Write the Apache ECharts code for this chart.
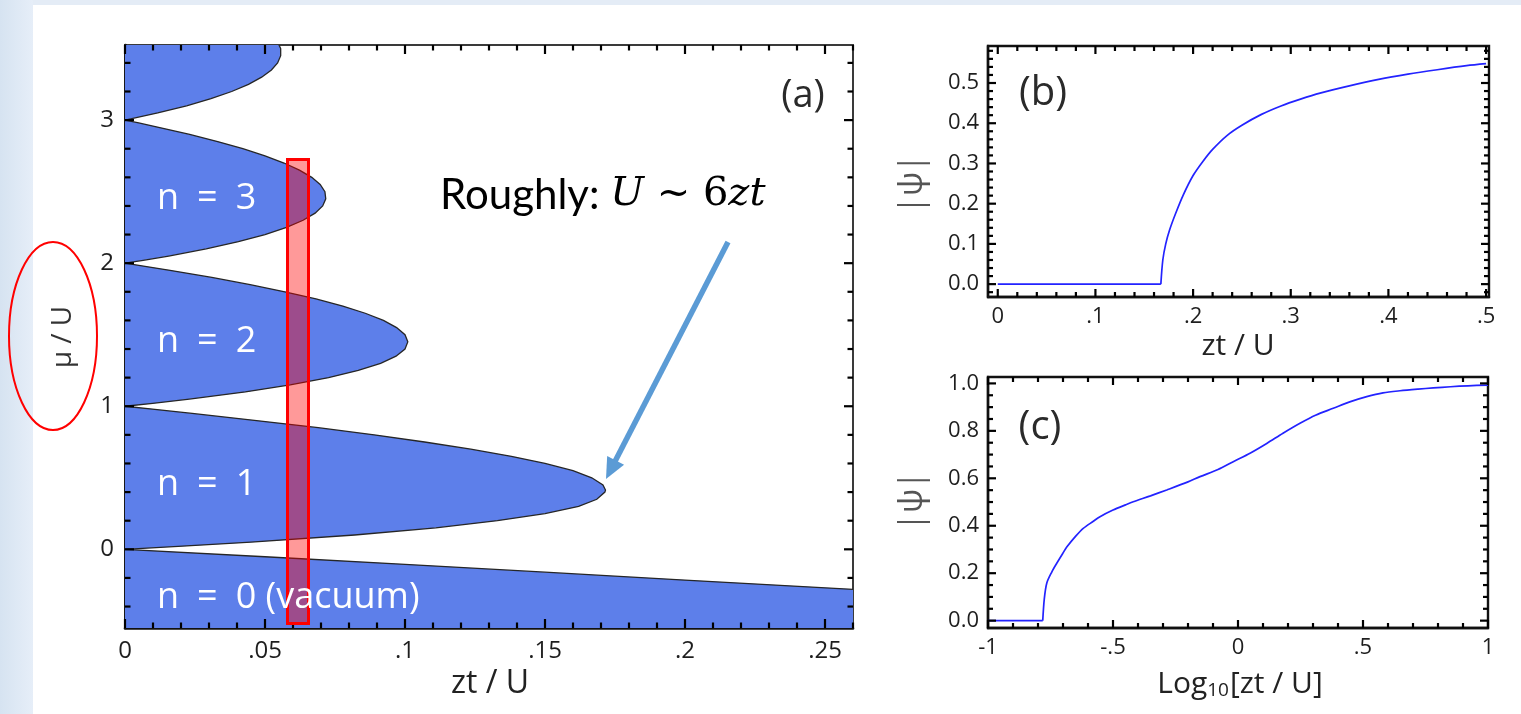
<!DOCTYPE html>
<html>
<head>
<meta charset="utf-8">
<script src="https://cdn.jsdelivr.net/npm/echarts@6/dist/echarts.min.js"></script>
<style>
  html, body { margin: 0; padding: 0; width: 1521px; height: 714px; overflow: hidden; background: #e4ecf6; }
  #side { position: absolute; left: 0; top: 0; width: 33px; height: 714px; background: linear-gradient(to right, #d6e3f1, #e6eef8); }
  #sheet { position: absolute; left: 33px; top: 5px; right: 0; bottom: 0; background: #ffffff; }
  #chart { position: absolute; left: 0; top: 0; width: 1521px; height: 714px; }
</style>
</head>
<body>
<div id="side"></div>
<div id="sheet"></div>
<div id="chart"></div>
<script>
// ---- (a) Mott-lobe phase boundaries, points as [zt/U, mu/U] ----
const lobeN0 = [[0, 0], [0.05, -0.052], [0.1, -0.105], [0.15, -0.16], [0.2, -0.215], [0.26, -0.28]];
const lobeN1 = [[0, 0], [0.019, 0.02], [0.045, 0.05], [0.082, 0.1], [0.111, 0.15], [0.133, 0.2], [0.150, 0.25],
  [0.162, 0.3], [0.1685, 0.35], [0.1714, 0.4], [0.1716, 0.414], [0.1707, 0.45], [0.1667, 0.5], [0.160, 0.55],
  [0.150, 0.6], [0.138, 0.65], [0.1235, 0.7], [0.107, 0.75], [0.089, 0.8], [0.069, 0.85], [0.047, 0.9],
  [0.024, 0.95], [0.0098, 0.98], [0, 1]];
const lobeN2 = [[0, 1], [0.0099, 1.02], [0.023, 1.05], [0.043, 1.1], [0.059, 1.15], [0.0727, 1.2], [0.0833, 1.25],
  [0.0913, 1.3], [0.0968, 1.35], [0.1, 1.4], [0.101, 1.45], [0.1, 1.5], [0.097, 1.55], [0.0923, 1.6],
  [0.0858, 1.65], [0.0778, 1.7], [0.0682, 1.75], [0.0571, 1.8], [0.0447, 1.85], [0.031, 1.9], [0.0161, 1.95],
  [0.0066, 1.98], [0, 2]];
const lobeN3 = [[0, 2], [0.0065, 2.02], [0.0156, 2.05], [0.029, 2.1], [0.0405, 2.15], [0.05, 2.2], [0.0577, 2.25],
  [0.0636, 2.3], [0.0679, 2.35], [0.0706, 2.4], [0.0717, 2.45], [0.0714, 2.5], [0.0697, 2.55], [0.0667, 2.6],
  [0.0623, 2.65], [0.0568, 2.7], [0.05, 2.75], [0.0421, 2.8], [0.0331, 2.85], [0.0231, 2.9], [0.012, 2.95],
  [0.0049, 2.98], [0, 3]];
const lobeN4 = [[0, 3], [0.0117, 3.05], [0.022, 3.1], [0.0307, 3.15], [0.0381, 3.2], [0.0441, 3.25], [0.0488, 3.3],
  [0.0523, 3.35], [0.0545, 3.4], [0.0556, 3.45], [0.0556, 3.5], [0.0544, 3.55], [0.0522, 3.6]];

// ---- (b) order parameter vs zt/U ----
const psiB_zt = [0, 0.05, 0.1, 0.15, 0.167, 0.169, 0.172, 0.176, 0.182, 0.19, 0.2, 0.21, 0.22, 0.235, 0.25,
  0.27, 0.29, 0.31, 0.33, 0.36, 0.39, 0.42, 0.45, 0.48, 0.5];
const psiB = [0, 0, 0, 0, 0, 0.06, 0.1, 0.135, 0.175, 0.222, 0.27, 0.305, 0.335, 0.37, 0.395,
  0.422, 0.443, 0.46, 0.475, 0.493, 0.509, 0.522, 0.533, 0.543, 0.548];

// ---- (c) order parameter vs log10(zt/U) ----
const psiC_log = [-1, -0.9, -0.8, -0.781, -0.775, -0.765, -0.745, -0.725, -0.7, -0.685, -0.65, -0.619, -0.58,
  -0.552, -0.5, -0.45, -0.419, -0.35, -0.285, -0.2, -0.152, -0.08, -0.019, 0.05, 0.115, 0.18, 0.248, 0.31,
  0.381, 0.45, 0.515, 0.58, 0.648, 0.72, 0.781, 0.85, 0.92, 1];
const psiC = [0, 0, 0, 0, 0.09, 0.158, 0.205, 0.242, 0.285, 0.31, 0.355, 0.389, 0.418,
  0.438, 0.466, 0.488, 0.501, 0.526, 0.551, 0.585, 0.607, 0.637, 0.67, 0.707, 0.747, 0.79, 0.832, 0.866,
  0.895, 0.923, 0.944, 0.96, 0.969, 0.976, 0.981, 0.986, 0.99, 0.993];

// ---- tick values and their labels ----
const ticksAx = [0, 0.05, 0.1, 0.15, 0.2, 0.25];
const labelsAx = ['0', '.05', '.1', '.15', '.2', '.25'];
const ticksAy = [0, 1, 2, 3];
const labelsAy = ['0', '1', '2', '3'];
const ticksBx = [0, 0.1, 0.2, 0.3, 0.4, 0.5];
const labelsBx = ['0', '.1', '.2', '.3', '.4', '.5'];
const ticksBy = [0, 0.1, 0.2, 0.3, 0.4, 0.5];
const labelsBy = ['0.0', '0.1', '0.2', '0.3', '0.4', '0.5'];
const ticksCx = [-1, -0.5, 0, 0.5, 1];
const labelsCx = ['-1', '-.5', '0', '.5', '1'];
const ticksCy = [0, 0.2, 0.4, 0.6, 0.8, 1.0];
const labelsCy = ['0.0', '0.2', '0.4', '0.6', '0.8', '1.0'];

const FONT = '"Open Sans", "DejaVu Sans", sans-serif';
const LOBE_FILL = '#5d7fea';
const CURVE = '#2323ff';

// minor tick positions between a and b with a step, skipping the labelled ones
function minorTicks(a, b, step, majors) {
  const out = [];
  const n = Math.round((b - a) / step);
  for (let i = 0; i <= n; i++) {
    const v = +(a + i * step).toFixed(4);
    if (!majors.some(m => Math.abs(m - v) < 1e-6)) out.push(v);
  }
  return out;
}
function labelFor(v, ticks, labels) {
  for (let i = 0; i < ticks.length; i++) if (Math.abs(ticks[i] - v) < 1e-6) return labels[i];
  return '';
}

// panel ranges
const rangeA = { x: [0, 0.26], y: [-0.55, 3.525] };
const rangeB = { x: [-0.01, 0.503], y: [-0.032, 0.592] };
const rangeC = { x: [-1, 1], y: [-0.031, 1.027] };

function axisFor(dim, grid, r, ticks, labels, st) {
  const ext = dim === 'x' ? r.x : r.y;
  return {
    gridIndex: grid, type: 'value', min: ext[0], max: ext[1], position: dim === 'x' ? 'bottom' : 'left',
    splitLine: { show: false }, axisTick: { show: false }, axisPointer: { show: false },
    axisLine: { show: true, onZero: false, lineStyle: { color: '#111', width: st.mainWidth } },
    axisLabel: { show: true, customValues: ticks, margin: st.margin, color: '#1e1e1e', fontFamily: FONT,
      fontSize: st.fontSize, showMinLabel: true, showMaxLabel: true, formatter: v => labelFor(v, ticks, labels) }
  };
}

const stA = { margin: 11, fontSize: 24, mainWidth: 2.6 };
const stB = { margin: 9, fontSize: 22, mainWidth: 2.4 };

const lobes = [lobeN0, lobeN1, lobeN2, lobeN3, lobeN4];

// split a curve into its flat part and its rising part at the last zero value
function splitAtOnset(xs, ys) {
  let k = 0;
  for (let i = 0; i < ys.length; i++) if (ys[i] === 0) k = i;
  const pts = xs.map((x, i) => [x, ys[i]]);
  return { flat: pts.slice(0, k + 1), rise: pts.slice(k) };
}
const curveB = splitAtOnset(psiB_zt, psiB);
const curveC = splitAtOnset(psiC_log, psiC);

const chart = echarts.init(document.getElementById('chart'), null, { renderer: 'canvas' });
const lineStyle = { color: CURVE, width: 1.7 };

chart.setOption({
  animation: false,
  backgroundColor: 'transparent',
  grid: [
    { left: 125, top: 45, width: 728, height: 583, containLabel: false, show: true, borderColor: '#3a3a3a', borderWidth: 2, backgroundColor: 'transparent' },
    { left: 988, top: 46, width: 501, height: 251, containLabel: false, show: true, borderColor: '#111', borderWidth: 2.4, backgroundColor: 'transparent' },
    { left: 988, top: 377, width: 500, height: 251, containLabel: false, show: true, borderColor: '#111', borderWidth: 2.4, backgroundColor: 'transparent' }
  ],
  xAxis: [
    axisFor('x', 0, rangeA, ticksAx, labelsAx, stA),
    axisFor('x', 1, rangeB, ticksBx, labelsBx, stB),
    axisFor('x', 2, rangeC, ticksCx, labelsCx, stB)
  ],
  yAxis: [
    axisFor('y', 0, rangeA, ticksAy, labelsAy, stA),
    axisFor('y', 1, rangeB, ticksBy, labelsBy, stB),
    axisFor('y', 2, rangeC, ticksCy, labelsCy, stB)
  ],
  series: [
    {
      type: 'custom', name: 'lobes', xAxisIndex: 0, yAxisIndex: 0, clip: true, z: 2, silent: true,
      data: lobes.map((pts, i) => [pts[0][0], pts[0][1], i]),
      encode: { x: 0, y: 1 },
      renderItem: function (params, api) {
        const i = api.value(2);
        const pts = lobes[i];
        const edge = pts.map(p => api.coord(p));
        const poly = edge.slice();
        const last = pts[pts.length - 1];
        if (i === 0) {
          poly.push(api.coord([last[0], rangeA.y[0]]));
          poly.push(api.coord([0, rangeA.y[0]]));
        } else if (last[0] !== 0) {
          poly.push(api.coord([0, last[1]]));
        }
        return {
          type: 'group',
          children: [
            { type: 'polygon', shape: { points: poly }, style: { fill: LOBE_FILL } },
            { type: 'polyline', shape: { points: edge }, style: { stroke: '#262626', lineWidth: 1.3, fill: null } }
          ]
        };
      }
    },
    { type: 'line', xAxisIndex: 1, yAxisIndex: 1, showSymbol: false, silent: true, z: 3, lineStyle, data: curveB.flat },
    { type: 'line', xAxisIndex: 1, yAxisIndex: 1, showSymbol: false, silent: true, z: 3, lineStyle, smooth: 0.3, data: curveB.rise },
    { type: 'line', xAxisIndex: 2, yAxisIndex: 2, showSymbol: false, silent: true, z: 3, lineStyle, data: curveC.flat },
    { type: 'line', xAxisIndex: 2, yAxisIndex: 2, showSymbol: false, silent: true, z: 3, lineStyle, smooth: 0.3, data: curveC.rise }
  ]
});

// Inward tick marks on all four sides of each panel, positioned through the panel's scales.
const tickEls = [];
function addTicks(gridIndex, r, xMaj, xMin, yMaj, yMin, lenMaj, lenMin) {
  const px = (x, y) => chart.convertToPixel({ gridIndex: gridIndex }, [x, y]);
  const push = (x1, y1, x2, y2) => tickEls.push({
    type: 'line', z: 60, silent: true,
    shape: { x1: x1, y1: y1, x2: x2, y2: y2 },
    style: { stroke: '#000000', lineWidth: 2.2 }
  });
  const xTick = (v, len) => {
    const b = px(v, r.y[0]), t = px(v, r.y[1]);
    push(b[0], b[1], b[0], b[1] - len);
    push(t[0], t[1], t[0], t[1] + len);
  };
  const yTick = (v, len) => {
    const l = px(r.x[0], v), rr = px(r.x[1], v);
    push(l[0], l[1], l[0] + len, l[1]);
    push(rr[0], rr[1], rr[0] - len, rr[1]);
  };
  xMaj.forEach(v => xTick(v, lenMaj));
  xMin.forEach(v => xTick(v, lenMin));
  yMaj.forEach(v => yTick(v, lenMaj));
  yMin.forEach(v => yTick(v, lenMin));
}
addTicks(0, rangeA, ticksAx, minorTicks(0, 0.26, 0.01, ticksAx), ticksAy, minorTicks(-0.4, 3.4, 0.2, ticksAy), 9, 5.5);
addTicks(1, rangeB, ticksBx, minorTicks(0, 0.5, 0.02, ticksBx), ticksBy, minorTicks(-0.02, 0.58, 0.02, ticksBy), 8, 5);
addTicks(2, rangeC, ticksCx, minorTicks(-1, 1, 0.1, ticksCx), ticksCy, minorTicks(0, 1, 0.05, ticksCy), 8, 5);

const txt = (x, y, text, size, color, extra) => ({
  type: 'text', x: x, y: y, z: 100,
  style: Object.assign({ text: text, fontFamily: FONT, fontSize: size, fill: color, align: 'center', verticalAlign: 'middle' }, extra || {})
});

// arrow geometry (annotation pointing at the n = 1 lobe tip)
const arrowStart = [728, 242], arrowTip = [606, 479];
const adx = arrowTip[0] - arrowStart[0], ady = arrowTip[1] - arrowStart[1];
const alen = Math.hypot(adx, ady), ux = adx / alen, uy = ady / alen;
const headLen = 21, headHalf = 9.5;
const baseC = [arrowTip[0] - ux * headLen, arrowTip[1] - uy * headLen];
const SP = '\u2002';

chart.setOption({
  graphic: tickEls.concat([
    // phase labels inside the lobes
    txt(157, 199, 'n' + SP + '=' + SP + '3', 36, '#ffffff', { align: 'left' }),
    txt(157, 342, 'n' + SP + '=' + SP + '2', 36, '#ffffff', { align: 'left' }),
    txt(157, 485, 'n' + SP + '=' + SP + '1', 36, '#ffffff', { align: 'left' }),
    txt(157, 598, 'n' + SP + '=' + SP + '0 (vacuum)', 36, '#ffffff', { align: 'left' }),
    // panel tags
    txt(803, 96, '(a)', 38, '#2a2a2a'),
    txt(1043, 94, '(b)', 40, '#2a2a2a'),
    txt(1040, 428, '(c)', 40, '#2a2a2a'),
    // axis titles
    txt(490, 684, 'zt / U', 32, '#222'),
    txt(1238, 346, 'zt / U', 30, '#222'),
    {
      type: 'text', x: 1240, y: 684, z: 100,
      style: {
        text: 'Log{s|10}[zt / U]', fontFamily: FONT, fontSize: 30, fill: '#222', align: 'center', verticalAlign: 'middle',
        rich: { s: { fontFamily: FONT, fontSize: 19, fill: '#222', verticalAlign: 'bottom', padding: [14, 1, 0, 0] } }
      }
    },
    Object.assign(txt(63, 337, 'μ / U', 28, '#333'), { rotation: Math.PI / 2 }),
    Object.assign(txt(913, 184, '|ψ|', 32, '#555'), { rotation: Math.PI / 2 }),
    Object.assign(txt(913, 501, '|ψ|', 32, '#555'), { rotation: Math.PI / 2 }),
    // highlighted hopping strip
    {
      type: 'rect', z: 90,
      shape: { x: 287.5, y: 159.5, width: 21, height: 464 },
      style: { fill: 'rgba(255,0,0,0.4)', stroke: '#ff0000', lineWidth: 3 }
    },
    // ring around the vertical axis title
    {
      type: 'ellipse', z: 90,
      shape: { cx: 53, cy: 336, rx: 44, ry: 94 },
      style: { fill: 'none', stroke: '#ff0000', lineWidth: 2 }
    },
    // note and arrow
    {
      type: 'text', x: 440, y: 195, z: 100,
      style: {
        text: '{r|Roughly: }{m|U}{n| ~ 6}{m|zt}',
        align: 'left', verticalAlign: 'middle',
        rich: {
          r: { fontFamily: 'Lato, "Open Sans", sans-serif', fontSize: 42, fill: '#000' },
          m: { fontFamily: '"DejaVu Serif", serif', fontStyle: 'italic', fontSize: 40, fill: '#000' },
          n: { fontFamily: '"DejaVu Serif", serif', fontSize: 40, fill: '#000' }
        }
      }
    },
    {
      type: 'line', z: 95,
      shape: { x1: arrowStart[0], y1: arrowStart[1], x2: baseC[0] + ux * 2, y2: baseC[1] + uy * 2 },
      style: { stroke: '#5b9bd5', lineWidth: 5.5 }
    },
    {
      type: 'polygon', z: 95,
      shape: { points: [arrowTip,
        [baseC[0] + uy * headHalf, baseC[1] - ux * headHalf],
        [baseC[0] - uy * headHalf, baseC[1] + ux * headHalf]] },
      style: { fill: '#5b9bd5' }
    }
  ])
});
</script>
</body>
</html>
